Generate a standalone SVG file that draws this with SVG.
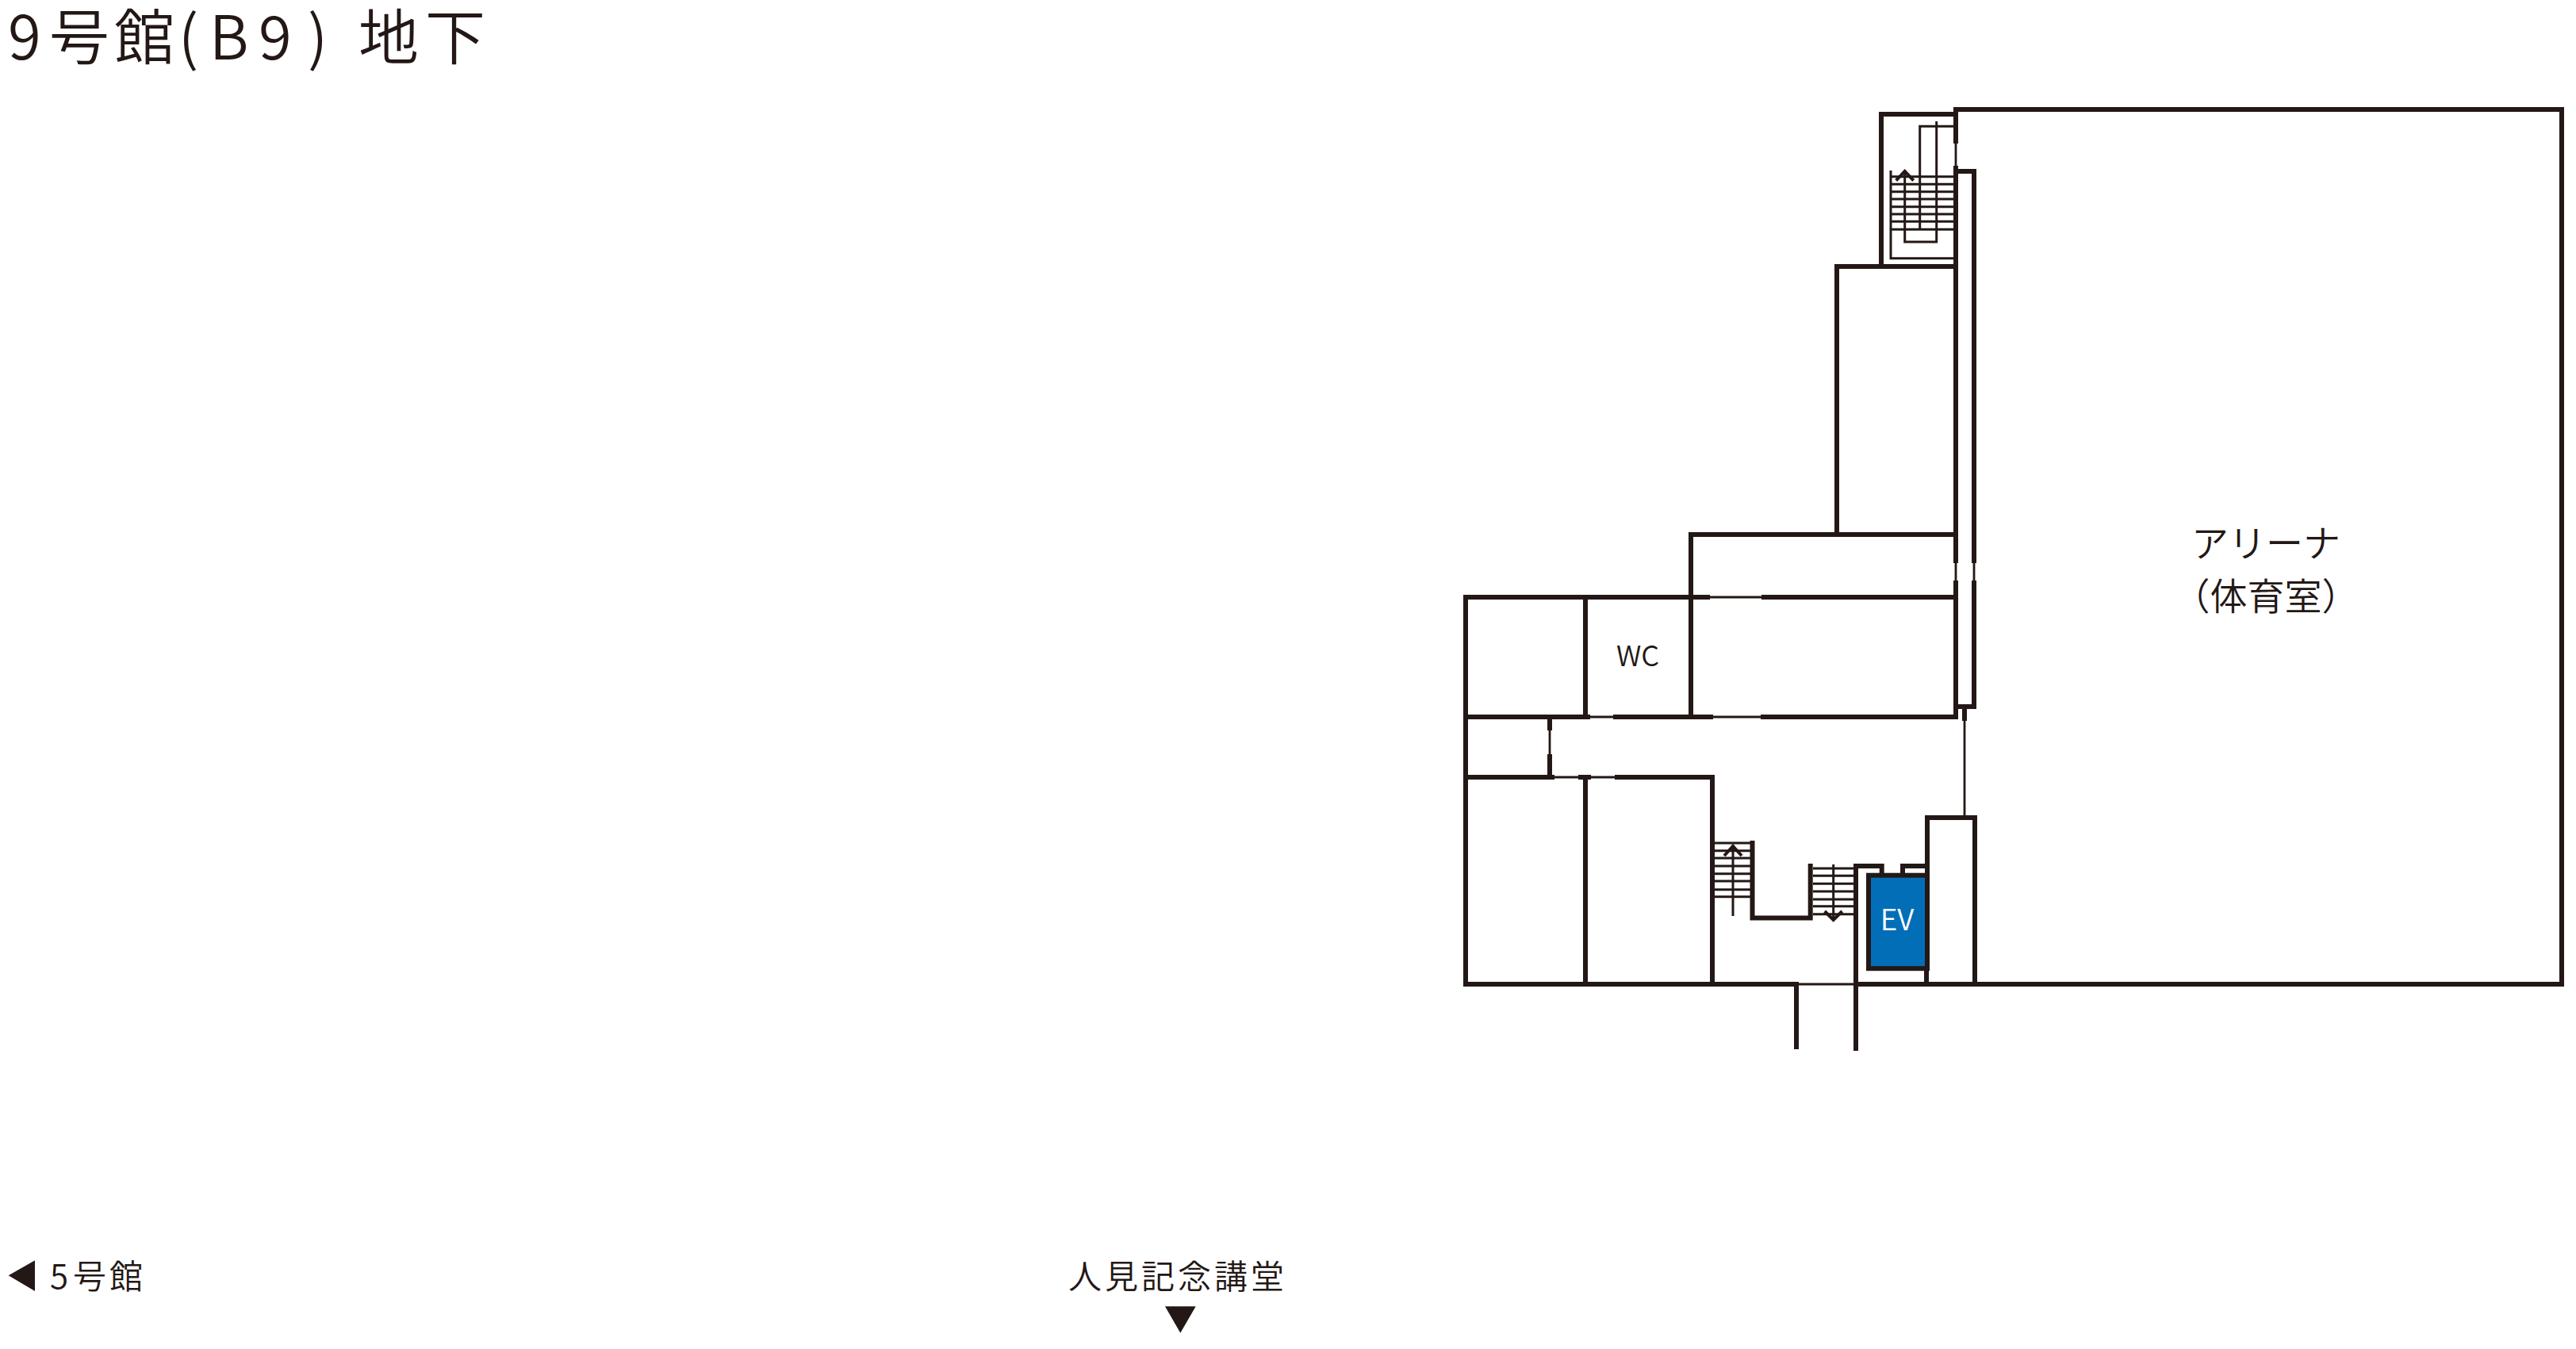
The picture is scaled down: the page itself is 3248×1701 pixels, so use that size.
<svg xmlns="http://www.w3.org/2000/svg" width="3248" height="1701" viewBox="0 0 3248 1701">
<style>
.w{fill:none;stroke:#231815;stroke-width:6;stroke-linecap:square;stroke-linejoin:miter}
.t{fill:none;stroke:#231815;stroke-width:2.8}
.s{fill:none;stroke:#231815;stroke-width:3}
.a{fill:none;stroke:#231815;stroke-width:4}
text{fill:#231815;font-family:"Noto Sans CJK JP","Noto Sans",sans-serif;font-weight:350}
.d{fill:#231815}
</style>
<rect width="3248" height="1701" fill="#fff"/>
<g id="labels-top"><text y="75" font-size="76" xml:space="preserve" x="10 62 144 225 264 326 388 430 452 536">9号館(B9) 地下</text></g>
<g id="ev"><rect x="2356" y="1103.7" width="74" height="117.5" fill="#036eb8" stroke="#231815" stroke-width="6"/><text x="2392" y="1173" font-size="37" text-anchor="middle" style="fill:#fff">EV</text></g>
<g id="walls">
<path class="w" d="M2466 178V138H3230V1241H2340M2466 212V707M2466 735V904M2489 707V216H2466M2489 735V891H2466"/>
<path class="w" d="M2466 144H2372V336M2316 336H2466M2316 336V674M2132 674H2466M2132 674V904"/>
<path class="w" d="M1848 753V1241H2265M1848 753H2153M2224 753H2466M1848 904H2002M2037 904H2157M2223 904H2466M1999 753V904"/>
<path class="w" d="M1848 980H1957M1993 980H2003M2039 980H2159V1241M1999 980V1241"/>
<path class="w" d="M1954 904V918M1954 954V980M2477 894V906"/>
<path class="w" d="M2209.500 1063V1157.600H2282.700V1092"/>
<path class="w" d="M2340 1322V1092H2372.700V1103M2399 1103V1092H2430M2430 1034V1103M2429 1221V1241M2430 1031H2490V1241M2265 1241V1320"/>
</g>
<g id="openings">
<path class="t" d="M2466 178V212M2466 707V735M2489 707V735M2156 753H2221M2160 904H2220M2005 904H2035M1954 920V952M1960 980H1990M2006 980H2036M2477 908V1028M2268 1241H2340"/>
</g>
<g id="stairs">
<path class="s" d="M2420.700 288V159.300H2466M2441.700 153V305H2401.700V215M2384 215V325.700H2466M2384 222.700H2466M2384 232.300H2466M2384 241.700H2466M2384 251H2466M2384 260.700H2466M2384 270H2466M2384 279.300H2466M2384 289.300H2466"/>
<path class="a" d="M2390.700 227.700L2401.700 216L2412.700 227.700"/>
<path class="s" d="M2162 1063H2207M2162 1072.700H2207M2162 1082H2207M2162 1092H2207M2162 1101.700H2207M2162 1111H2207M2162 1121.700H2207M2162 1130.700H2207M2185 1065V1155"/>
<path class="a" d="M2174 1079L2185 1067L2196 1079"/>
<path class="s" d="M2286 1095H2340M2286 1104.300H2340M2286 1114.300H2340M2286 1124H2340M2286 1134H2340M2286 1142.700H2340M2286 1152.700H2340M2311.700 1090V1160"/>
<path class="a" d="M2300.700 1149L2311.700 1160L2322.700 1149"/>
</g>
<g id="room-labels">
<text x="2065" y="840" font-size="36" text-anchor="middle">WC</text>
<text x="2857" y="702" font-size="47" text-anchor="middle">アリーナ</text>
<text x="2857" y="769" font-size="47" text-anchor="middle">（体育室）</text>
</g>
<g id="direction-labels">
<path class="d" d="M10.700 1608.300L44 1589.300V1628Z"/>
<text y="1625" font-size="42" x="63 92 138">5号館</text>
<text x="1347" y="1625" font-size="42" letter-spacing="4">人見記念講堂</text>
<path class="d" d="M1469 1647.300H1507.700L1488.300 1680.700Z"/>
</g>
</svg>
